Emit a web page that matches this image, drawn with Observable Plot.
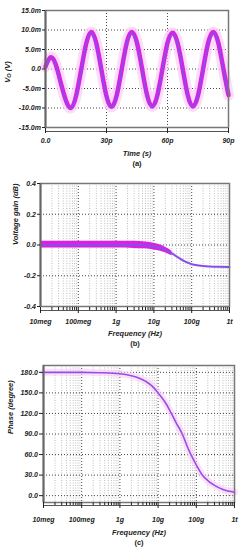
<!DOCTYPE html>
<html><head><meta charset="utf-8">
<script src="https://cdn.jsdelivr.net/npm/d3@7"></script>
<script src="https://cdn.jsdelivr.net/npm/@observablehq/plot@0.6"></script>
<style>
body{margin:0;background:#fff;width:242px;height:550px;overflow:hidden}
#c svg{display:block}
</style></head><body><div id="c"></div>
<script>
// ---- Panel (a): transient output voltage ----
const timePs = [0,2.5,5,7.5,10,12.5,15,17.5,20,22.5,25,27.5,30,32.5,35,37.5,40,42.5,45,47.5,50,52.5,55,57.5,60,62.5,65,67.5,70,72.5,75,77.5,80,82.5,85,87.5,90];
const voutMv = [0.6,3.0,1.2,-3.5,-8.0,-10.0,-7.0,-0.3,6.5,9.5,6.6,-0.2,-7.0,-9.7,-6.8,0.0,6.8,9.5,6.7,0.0,-6.8,-9.6,-6.8,0.0,6.7,9.3,6.6,0.0,-6.8,-9.6,-6.8,0.0,6.7,9.5,6.7,0.0,-6.7];
const voutTicks = [-15,-10,-5,0,5,10,15];
const timeTicks = [0,30,60,90];
const timeTickLabels = ["0.0","30p","60p","90p"];

// ---- Panel (b): voltage gain ----
const freqGain = [1e7,1e8,1e9,3e9,6e9,1e10,1.5e10,2e10,3e10,5e10,7e10,1e11,1.5e11,2e11,3e11,5e11,1e12];
const gainDb   = [0.002,0.002,0.002,0.001,-0.003,-0.01,-0.02,-0.032,-0.055,-0.09,-0.11,-0.125,-0.133,-0.137,-0.14,-0.142,-0.143];
const gainUpper= [0.025,0.025,0.025,0.024,0.02,0.012,0.0,-0.015,-0.04,-0.078,-0.102,-0.12,-0.129,-0.134,-0.138,-0.14,-0.141];
const gainLower= [-0.02,-0.02,-0.02,-0.022,-0.025,-0.032,-0.04,-0.05,-0.07,-0.1,-0.118,-0.13,-0.137,-0.14,-0.142,-0.144,-0.145];
const gainTicks = [-0.4,-0.2,0,0.2,0.4];

// ---- Panel (c): phase ----
const freqPhase = [1e7,1e8,3e8,1e9,2e9,3e9,5e9,7e9,1e10,1.5e10,2e10,3e10,4.3e10,6e10,8e10,1e11,1.4e11,2e11,3e11,5e11,1e12];
const phaseDeg  = [180,180,179.5,178,175,172,166,160,150,137,125,106,90,70,55,45,31,22,15,9,5];
const phaseTicks = [0,30,60,90,120,150,180];

// ---- shared frequency ticks ----
const freqTicks = [1e7,1e8,1e9,1e10,1e11,1e12];
const freqTickLabels = ["10meg","100meg","1g","10g","100g","1t"];

const FONT = '"Liberation Sans", Arial, sans-serif';
const baseStyle = {fontFamily: FONT, fontSize: "7px", fontWeight: "bold", fontStyle: "italic", color: "#222", background: "white", overflow: "visible"};
const majorGrid = {stroke: "#333", strokeOpacity: 0.9, strokeDasharray: "1,2", strokeWidth: 1};
const minorGrid = {stroke: "#999", strokeOpacity: 0.8, strokeDasharray: "1,1.5", strokeWidth: 0.8};
const minorFreq = d3.scaleLog().domain([1e7,1e12]).ticks().filter(d => !freqTicks.includes(d));
const titleText = {fontSize: 7.5, fontWeight: "bold", fontStyle: "italic", fill: "#222", lineAnchor: "middle"};

const rowsA = timePs.map((t, i) => ({t, v: voutMv[i]}));
const rowsB = freqGain.map((f, i) => ({f, g: gainDb[i], hi: gainUpper[i], lo: gainLower[i]}));
const rowsC = freqPhase.map((f, i) => ({f, p: phaseDeg[i]}));

const container = document.getElementById("c");

// Panel (a)
const pa = Plot.plot({
  width: 242, height: 168,
  marginTop: 10, marginBottom: 41, marginLeft: 45, marginRight: 14,
  style: baseStyle,
  x: {domain: [0, 90]},
  y: {domain: [-15, 15]},
  marks: [
    Plot.gridY(voutTicks.filter(d => Math.abs(d) < 15), majorGrid),
    Plot.gridX([30, 60], majorGrid),
    Plot.line(rowsA, {x: "t", y: "v", curve: "natural", stroke: "#fbcdf6", strokeWidth: 11, strokeOpacity: 0.7}),
    Plot.line(rowsA, {x: "t", y: "v", curve: "natural", stroke: "#e01ee3", strokeWidth: 4.5}),
    Plot.line(rowsA, {x: "t", y: "v", curve: "natural", stroke: "#7d55e6", strokeWidth: 1.4, dy: 1}),
    Plot.frame({stroke: "#777", strokeWidth: 1.5}),
    Plot.ruleX([0], {stroke: "#666", strokeWidth: 2}),
    Plot.ruleY([-15], {dy: 4, stroke: "#555", strokeWidth: 1.2}),
    Plot.axisY(voutTicks, {tickSize: 3, tickPadding: 1.5, label: null, tickFormat: d => d === 0 ? "0.0" : d.toFixed(1) + "m"}),
    Plot.axisX(timeTicks, {tickSize: 5, dy: 1, tickPadding: 5, label: null, tickFormat: (d, i) => timeTickLabels[timeTicks.indexOf(d)]}),
    Plot.text(["Time (s)"], {text: d => d, frameAnchor: "bottom", dy: 26, ...titleText}),
    Plot.text(["(a)"], {text: d => d, frameAnchor: "bottom", dy: 36, ...titleText, fontStyle: "normal"})
  ]
});
container.appendChild(pa);
// y label with subscript
const ya = d3.select(pa).append("text")
  .attr("transform", "translate(8,72) rotate(-90)")
  .attr("text-anchor", "middle").attr("dominant-baseline", "middle")
  .attr("font-size", 7.5).attr("font-weight", "bold").attr("font-style", "italic").attr("fill", "#222");
ya.append("tspan").text("V");
ya.append("tspan").attr("font-size", 5.5).attr("dy", 1.5).text("O");
ya.append("tspan").attr("dy", -1.5).text(" (V)");

// Panel (b)
const pb = Plot.plot({
  width: 242, height: 180,
  marginTop: 15, marginBottom: 42, marginLeft: 40, marginRight: 13,
  style: baseStyle,
  x: {type: "log", domain: [1e7, 1e12]},
  y: {domain: [-0.4, 0.4]},
  marks: [
    Plot.gridX(minorFreq, minorGrid),
    Plot.gridX(freqTicks.slice(1, -1), majorGrid),
    Plot.gridY([-0.2, 0, 0.2], majorGrid),
    Plot.areaY(rowsB, {x: "f", y1: "lo", y2: "hi", curve: "monotone-x", fill: "#fbcdf6", fillOpacity: 0.6, dy: 0}),
    Plot.areaY(rowsB.filter(d => d.f <= 3e10), {x: "f", y1: "lo", y2: "hi", curve: "monotone-x", fill: "#e01ee3"}),
    Plot.line(rowsB, {x: "f", y: "g", curve: "monotone-x", stroke: "#8450e6", strokeWidth: 2}),
    Plot.frame({stroke: "#777", strokeWidth: 1.5}),
    Plot.ruleX([1e7], {stroke: "#666", strokeWidth: 2}),
    Plot.ruleY([-0.4], {dy: 4, stroke: "#555", strokeWidth: 1.2}),
    Plot.axisY(gainTicks, {tickSize: 3, tickPadding: 1.5, label: null, tickFormat: d => d.toFixed(1)}),
    Plot.axisX(minorFreq, {tickSize: 3, dy: 1, label: null, tickFormat: () => ""}),
    Plot.axisX(freqTicks, {tickSize: 6, dy: 1, tickPadding: 5.5, label: null, tickFormat: d => freqTickLabels[freqTicks.indexOf(d)]}),
    Plot.text(["Frequency (Hz)"], {text: d => d, frameAnchor: "bottom", dy: 27, ...titleText}),
    Plot.text(["(b)"], {text: d => d, frameAnchor: "bottom", dy: 37, ...titleText, fontStyle: "normal"}),
    Plot.text(["Voltage gain (dB)"], {text: d => d, frameAnchor: "left", dx: -25, rotate: -90, ...titleText})
  ]
});
container.appendChild(pb);

// Panel (c)
const pc = Plot.plot({
  width: 242, height: 202,
  marginTop: 17, marginBottom: 48, marginLeft: 43, marginRight: 8,
  style: baseStyle,
  x: {type: "log", domain: [1e7, 1e12]},
  y: {domain: [-10, 190]},
  marks: [
    Plot.gridX(minorFreq, minorGrid),
    Plot.gridX(freqTicks.slice(1, -1), majorGrid),
    Plot.gridY(phaseTicks, majorGrid),
    Plot.line(rowsC, {x: "f", y: "p", curve: "monotone-x", stroke: "#fbcdf6", strokeWidth: 7, strokeOpacity: 0.6}),
    Plot.line(rowsC, {x: "f", y: "p", curve: "monotone-x", stroke: "#9250e8", strokeWidth: 1.6}),
    Plot.frame({stroke: "#777", strokeWidth: 1.5}),
    Plot.ruleX([1e7], {stroke: "#666", strokeWidth: 2}),
    Plot.ruleY([-10], {dy: 3, stroke: "#555", strokeWidth: 1.2}),
    Plot.axisY(phaseTicks, {tickSize: 4, tickPadding: 1.5, label: null, tickFormat: d => d.toFixed(1)}),
    Plot.axisX(minorFreq, {tickSize: 3, dy: 0, label: null, tickFormat: () => ""}),
    Plot.axisX(freqTicks, {tickSize: 6, dy: 0, tickPadding: 8.5, label: null, tickFormat: d => freqTickLabels[freqTicks.indexOf(d)]}),
    Plot.text(["Frequency (Hz)"], {text: d => d, frameAnchor: "bottom", dy: 30, ...titleText}),
    Plot.text(["(c)"], {text: d => d, frameAnchor: "bottom", dy: 40, ...titleText, fontStyle: "normal"}),
    Plot.text(["Phase (degree)"], {text: d => d, frameAnchor: "left", dx: -33, rotate: -90, ...titleText})
  ]
});
container.appendChild(pc);
</script>
</body></html>
